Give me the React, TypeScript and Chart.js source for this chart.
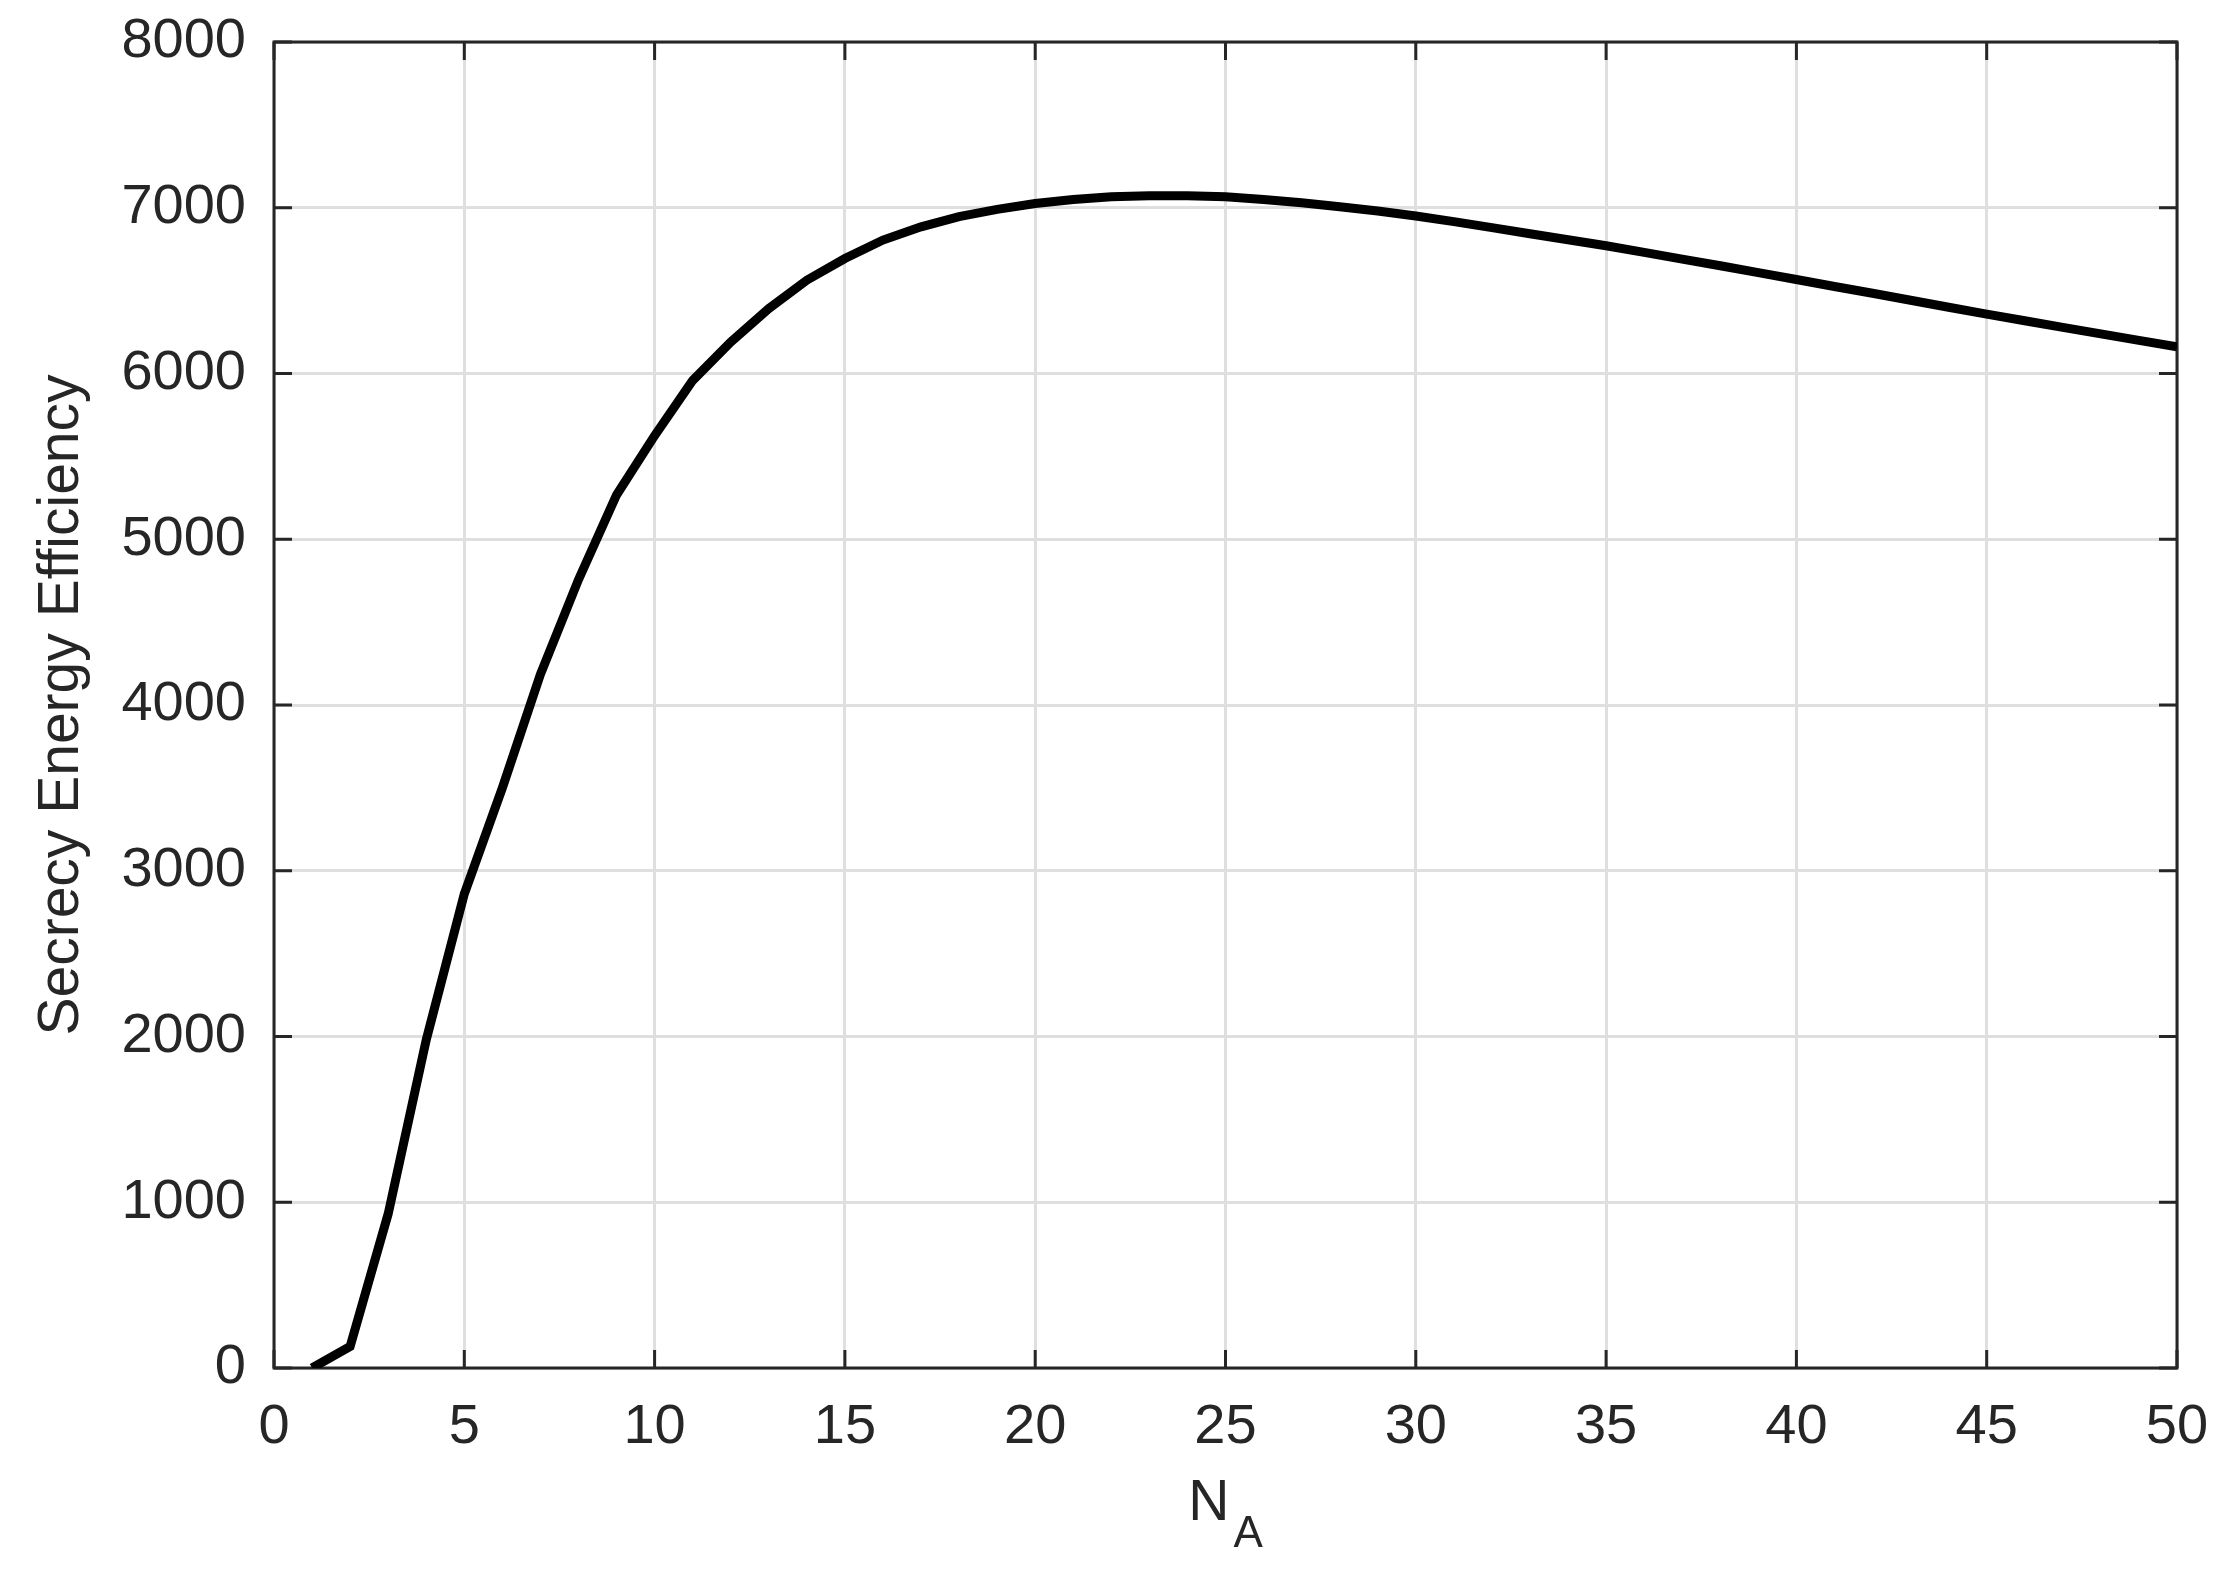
import { useEffect, useRef } from "react"
import { Chart, registerables } from "chart.js"

Chart.register(...registerables)

// N_A values (number of antennas)
const nA = [
  1, 2, 3, 4, 5, 6, 7, 8, 9, 10,
  11, 12, 13, 14, 15, 16, 17, 18, 19, 20,
  21, 22, 23, 24, 25, 26, 27, 28, 29, 30,
  31, 32, 33, 34, 35, 36, 37, 38, 39, 40,
  41, 42, 43, 44, 45, 46, 47, 48, 49, 50
]

// secrecy energy efficiency
const see = [
  0, 130, 930, 1980, 2860, 3500, 4185, 4756, 5267, 5625,
  5958, 6190, 6392, 6563, 6694, 6805, 6885, 6946, 6990, 7026,
  7050, 7066, 7072, 7072, 7066, 7050, 7030, 7006, 6980, 6950,
  6916, 6880, 6843, 6807, 6771, 6731, 6690, 6650, 6609, 6567,
  6525, 6484, 6442, 6400, 6358, 6318, 6278, 6239, 6200, 6161
]

const xTicks = { min: 0, max: 50, step: 5 }
const yTicks = { min: 0, max: 8000, step: 1000 }

const yTitle = "Secrecy Energy Efficiency"
const xTitleMain = "N"
const xTitleSub = "A"

const FONT = "'Liberation Sans', Arial, Helvetica, sans-serif"
const INK = "#262626"

const boxPlugin = {
  id: "matlabBox",
  beforeDatasetsDraw(chart: any) {
    const { ctx, chartArea, scales } = chart
    const { left, right, top, bottom } = chartArea
    const tick = 18
    ctx.save()
    ctx.strokeStyle = INK
    ctx.lineWidth = 3
    ctx.beginPath()
    for (let v = xTicks.min; v <= xTicks.max; v += xTicks.step) {
      const px = scales.x.getPixelForValue(v)
      ctx.moveTo(px, bottom)
      ctx.lineTo(px, bottom - tick)
      ctx.moveTo(px, top)
      ctx.lineTo(px, top + tick)
    }
    for (let v = yTicks.min; v <= yTicks.max; v += yTicks.step) {
      const py = scales.y.getPixelForValue(v)
      ctx.moveTo(left, py)
      ctx.lineTo(left + tick, py)
      ctx.moveTo(right, py)
      ctx.lineTo(right - tick, py)
    }
    ctx.stroke()
    ctx.strokeRect(left, top, right - left, bottom - top)
    ctx.restore()
  },
  afterDraw(chart: any) {
    const { ctx, chartArea, scales } = chart
    ctx.save()
    ctx.fillStyle = INK
    // y title
    ctx.font = `57px ${FONT}`
    ctx.textAlign = "center"
    ctx.textBaseline = "alphabetic"
    ctx.translate(78, (chartArea.top + chartArea.bottom) / 2)
    ctx.rotate(-Math.PI / 2)
    ctx.fillText(yTitle, 0, 0)
    ctx.restore()

    // x title with subscript
    ctx.save()
    ctx.fillStyle = INK
    ctx.textAlign = "left"
    ctx.textBaseline = "alphabetic"
    ctx.font = `57px ${FONT}`
    const wN = ctx.measureText(xTitleMain).width
    ctx.font = `44px ${FONT}`
    const wA = ctx.measureText(xTitleSub).width
    const cx = scales.x.getPixelForValue(25)
    const x0 = cx - (wN + wA) / 2 - 2
    ctx.font = `57px ${FONT}`
    ctx.fillText(xTitleMain, x0, 1520)
    ctx.font = `44px ${FONT}`
    ctx.fillText(xTitleSub, x0 + wN + 4, 1547)
    ctx.restore()
  }
}

const App = () => {
  const chartRef = useRef<HTMLCanvasElement>(null)

  useEffect(() => {
    if (!chartRef.current) return
    const ctx = chartRef.current.getContext("2d")
    if (!ctx) return
    const chart = new Chart(ctx, {
      type: "line",
      data: {
        datasets: [
          {
            data: nA.map((n, i) => ({ x: n, y: see[i] })),
            borderColor: "#000000",
            borderWidth: 9,
            pointRadius: 0,
            tension: 0,
            fill: false
          }
        ]
      },
      options: {
        animation: false,
        responsive: false,
        devicePixelRatio: 1,
        layout: { padding: { left: 0, top: 42, right: 62, bottom: 0 } },
        plugins: {
          legend: { display: false },
          tooltip: { enabled: false }
        },
        scales: {
          x: {
            type: "linear",
            min: xTicks.min,
            max: xTicks.max,
            ticks: {
              stepSize: xTicks.step,
              color: INK,
              padding: 26,
              maxRotation: 0,
              font: { family: FONT, size: 56 },
              callback: (v: any) => String(v)
            },
            grid: { color: "#dfdfdf", lineWidth: 3, drawTicks: false },
            border: { display: false },
            afterFit: (scale: any) => {
              scale.height = 1584 - 1368
              scale.paddingLeft = 0
              scale.paddingRight = 0
            }
          },
          y: {
            min: yTicks.min,
            max: yTicks.max,
            ticks: {
              stepSize: yTicks.step,
              color: INK,
              padding: 28,
              font: { family: FONT, size: 56 },
              callback: (v: any) => String(v)
            },
            grid: { color: "#dfdfdf", lineWidth: 3, drawTicks: false },
            border: { display: false },
            afterFit: (scale: any) => {
              scale.width = 274
              scale.paddingTop = 0
              scale.paddingBottom = 0
            }
          }
        }
      },
      plugins: [boxPlugin]
    })
    return () => {
      chart.destroy()
    }
  }, [])

  return (
    <div style={{ position: "fixed", left: 0, top: 0, width: 2239, height: 1584, background: "#fff" }}>
      <canvas ref={chartRef} width={2239} height={1584}></canvas>
    </div>
  )
}

export default App
